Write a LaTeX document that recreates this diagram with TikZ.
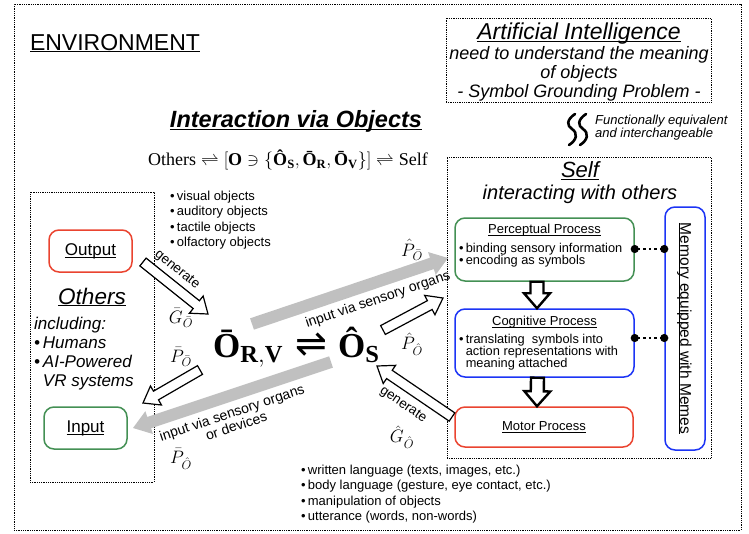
\RequirePackage{fix-cm}
\documentclass[tikz,border=0pt]{standalone}
\usepackage{fontspec}
\setmainfont{Liberation Sans}
\setmathrm{Liberation Serif}
\newfontfamily\serifface{Liberation Serif}
\newfontfamily\symface{DejaVu Sans}
\usepackage{tikz}
\usetikzlibrary{arrows.meta, calc, fit, positioning}

\definecolor{motorred}{RGB}{234,68,48}
\definecolor{percgreen}{RGB}{68,144,84}
\definecolor{cogblue}{RGB}{28,52,245}
\definecolor{flowgray}{RGB}{192,192,192}

\newcommand{\fsz}[2]{\fontsize{#1}{#2}\selectfont}
\newcommand{\ulin}[1]{\underline{\raisebox{0pt}[\height][0pt]{#1}}}
\newcommand{\objsym}[1]{\mbox{\serifface\bfseries #1}}
% block arrow: style, tail, tip, half shaft, half head, head length
\newcommand{\fatarrow}[6]{%
  \path ($(#3)!#6!(#2)$) coordinate (fa-base);
  \path[#1] ($(#2)!#4!90:(#3)$) -- ($(fa-base)!#4!90:(#3)$) -- ($(fa-base)!#5!90:(#3)$)
    -- (#3) -- ($(fa-base)!#5!-90:(#3)$) -- ($(fa-base)!#4!-90:(#3)$) -- ($(#2)!#4!-90:(#3)$) -- cycle;
}

\begin{document}
\begin{tikzpicture}[x=1pt, y=-1pt,
  frame/.style={draw, densely dotted, line width=0.8pt, inner sep=0pt},
  proc/.style={draw, rounded corners=10pt, line width=1.5pt, inner sep=0pt},
  lbl/.style={inner sep=0pt},
  hollow/.style={draw, fill=white, line width=1.2pt},
  flow/.style={fill=flowgray},
  stagearrow/.style={draw, fill=white, line width=2.4pt},
  tildestroke/.style={line width=2.6pt, line cap=round},
  memlink/.style={line width=2.4pt, dash pattern=on 2.4pt off 3.2pt, {Circle[length=8pt]}-{Circle[length=8pt]}, shorten <=-4pt, shorten >=-4pt}
]
\useasboundingbox (0,0) rectangle (749,533);

% environment
\node[frame, fit={(14,4) (741,530)}] (env) {};
\node[lbl, font=\fsz{23}{27}] (envtitle) at (115,43) {\ulin{ENVIRONMENT}};

% artificial intelligence
\node[frame, fit={(446,18) (711,102)}] (aibox) {};
\node[lbl, font=\fsz{23}{27}\itshape] (aititle) at (579,32) {\ulin{Artificial Intelligence}};
\node[lbl, font=\fsz{18}{19}\itshape, align=center, below=5pt of aititle] (aitext) {need to understand the meaning\\of objects\\- Symbol Grounding Problem -};

\foreach \dx in {0,11} {
  \draw[tildestroke, xshift=\dx pt] (575,114) .. controls (566,120) and (567,126) .. (572,129)
    .. controls (578,133) and (577,140) .. (569,145);
}
\node[lbl, font=\fsz{13}{13}\itshape, align=left, anchor=west] (functext) at (595,128) {Functionally equivalent\\and interchangeable};

% self
\node[frame, fit={(447,157) (711,458)}] (selfbox) {};
\node[lbl, font=\fsz{22}{26}\itshape] (selftitle) at (580,171) {\ulin{Self}};
\node[lbl, font=\fsz{20}{24}\itshape] (selfsub) at (580,194) {interacting with others};

\node[proc, draw=percgreen, fit={(455,218) (634,281)}] (perc) {};
\node[lbl, font=\fsz{13}{13}, below=7pt of perc.north] (perctitle) {\ulin{Perceptual Process}};
\node[lbl, font=\fsz{12.8}{12}, align=left, anchor=north west] (perctext) at (459,243) {•\,binding sensory information\\•\,encoding as symbols};

\node[proc, draw=cogblue, fit={(455,309) (634,377)}] (cog) {};
\node[lbl, font=\fsz{13}{13}, below=8pt of cog.north] (cogtitle) {\ulin{Cognitive Process}};
\node[lbl, font=\fsz{12.8}{12}, align=left, anchor=north west] (cogtext) at (459,334) {•\,translating\ \ symbols into\\\phantom{•\,}action representations with\\\phantom{•\,}meaning attached};

\node[proc, draw=motorred, fit={(455,407) (633,447)}] (motor) {};
\node[lbl, font=\fsz{13}{13}] (motortitle) at (motor) {\ulin{Motor Process}};

\node[proc, draw=cogblue, fit={(665,207) (705,450)}] (mem) {};
\node[lbl, font=\fsz{15.5}{16}, rotate=-90] (memtext) at (mem) {\ulin{Memory equipped with Memes}};

\draw[memlink] (perc.east |- 0,249) -- (mem.west |- 0,249);
\draw[memlink] (cog.east |- 0,338) -- (mem.west |- 0,338);

\coordinate (perc-out) at ([xshift=-7.5pt]perc.south);
\coordinate (cog-in) at ([xshift=-7.5pt]cog.north);
\coordinate (cog-out) at ([xshift=-7pt]cog.south);
\coordinate (motor-in) at ([xshift=-7pt]motor.north);
\fatarrow{stagearrow}{perc-out}{cog-in}{6.5pt}{13pt}{15pt}
\fatarrow{stagearrow}{cog-out}{motor-in}{6.5pt}{13pt}{15pt}

% others
\node[frame, fit={(30,192) (154,482)}] (othersbox) {};
\node[proc, draw=motorred, font=\fsz{17}{17}, minimum width=83pt, minimum height=42pt] (output) at (90.5,251) {\ulin{Output}};
\node[lbl, font=\fsz{22.5}{26}\itshape] (otherstitle) at (92,297) {\ulin{Others}};
\node[lbl, font=\fsz{17}{19}\itshape, align=left, anchor=north west] (otherstext) at (34,317) {including:\\•\,Humans\\•\,AI-Powered\\\phantom{•\,}VR systems};
\node[proc, draw=percgreen, font=\fsz{17}{17}, minimum width=83pt, minimum height=42pt] (input) at (85.5,428) {\ulin{Input}};

% objects
\node[lbl, font=\fsz{23.5}{28}\bfseries\itshape] (ivotitle) at (296,120) {\ulin{Interaction via Objects}};
\node[lbl, font=\fsz{18}{22}] (relation) at (288,160) {$\mathrm{Others} \rightleftharpoons [\mathbf{O} \ni \{\objsym{Ô}_{\mathbf{S}}, \objsym{Ō}_{\mathbf{R}}, \objsym{Ō}_{\mathbf{V}}\}] \rightleftharpoons \mathrm{Self}$};
\node[lbl, font=\fsz{13}{15.3}, align=left, anchor=north west] (objlist) at (170,191) {•\,visual objects\\•\,auditory objects\\•\,tactile objects\\•\,olfactory objects};

\node[lbl, font=\fsz{35}{38}, anchor=base west] (orv) at (213,357) {$\objsym{Ō}_{\mathbf{R,V}}$};
\node[lbl, font=\fsz{38}{38}\symface] (equil) at (311,345) {⇌};
\node[lbl, font=\fsz{35}{38}, anchor=base west] (os) at (338,357) {$\objsym{Ô}_{\mathbf{S}}$};

\node[lbl, font=\fsz{13}{15.3}, align=left, anchor=north west] (outlist) at (301,465) {•\,written language (texts, images, etc.)\\•\,body language (gesture, eye contact, etc.)\\•\,manipulation of objects\\•\,utterance (words, non-words)};

% flows
\coordinate (gen-o-tail) at (143,262);
\coordinate (gen-o-tip) at (208,314);
\coordinate (pbar-o-tail) at (200,370);
\coordinate (pbar-o-tip) at (143,403);
\coordinate (in-others-tail) at (331,362);
\coordinate (in-others-tip) at (133,428);
\coordinate (in-self-tail) at (252,324);
\coordinate (in-self-tip) at (448,258);
\coordinate (phat-o-tail) at (383,330);
\coordinate (phat-o-tip) at (443,298);
\coordinate (gen-s-tail) at (452,417);
\coordinate (gen-s-tip) at (377,366);

\fatarrow{flow}{in-others-tail}{in-others-tip}{6pt}{12pt}{17pt}
\fatarrow{flow}{in-self-tail}{in-self-tip}{6pt}{12pt}{17pt}
\fatarrow{hollow}{gen-o-tail}{gen-o-tip}{5pt}{11pt}{15pt}
\fatarrow{hollow}{pbar-o-tail}{pbar-o-tip}{5pt}{11pt}{15pt}
\fatarrow{hollow}{phat-o-tail}{phat-o-tip}{5pt}{11pt}{15pt}
\fatarrow{hollow}{gen-s-tail}{gen-s-tip}{5pt}{11pt}{15pt}

\node[lbl, font=\fsz{13.5}{13}, rotate=-38.7] (gen-o-label) at (177,270) {generate};
\node[lbl, font=\fsz{18}{20}] (gbar) at (181,318) {$\bar{G}_{\bar{O}}$};
\node[lbl, font=\fsz{18}{20}] (pbar-o) at (181,357) {$\bar{P}_{\bar{O}}$};
\node[lbl, font=\fsz{14}{14}, align=center, rotate=18.4] (in-others-label) at (234,419) {input via sensory organs\\or devices};
\node[lbl, font=\fsz{18}{20}] (pbar-s) at (181,459) {$\bar{P}_{\hat{O}}$};
\node[lbl, font=\fsz{14}{14}, rotate=18.6] (in-self-label) at (378,300) {input via sensory organs};
\node[lbl, font=\fsz{18}{20}] (phat-o) at (412,250) {$\hat{P}_{\bar{O}}$};
\node[lbl, font=\fsz{18}{20}] (phat-s) at (412,344) {$\hat{P}_{\hat{O}}$};
\node[lbl, font=\fsz{13.5}{13}, rotate=-34.2] (gen-s-label) at (403,405) {generate};
\node[lbl, font=\fsz{18}{20}] (ghat) at (402,437) {$\hat{G}_{\hat{O}}$};
\end{tikzpicture}
\end{document}
